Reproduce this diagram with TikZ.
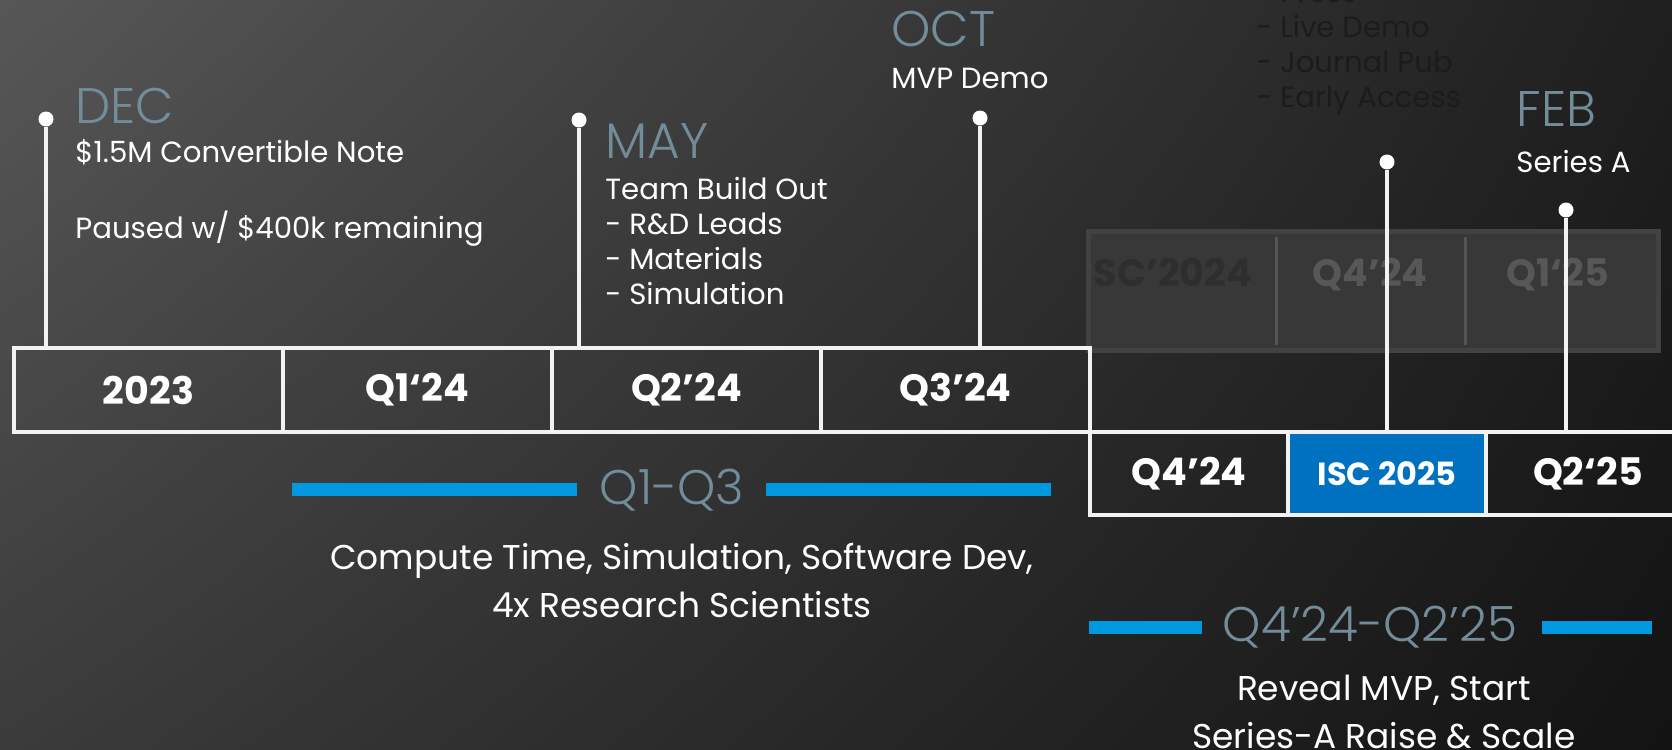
\documentclass[tikz,border=0pt]{standalone}
\usepackage{fontspec}
\setmainfont{Poppins}
\newfontfamily\lightfont{Poppins Light}
\usetikzlibrary{positioning,shadings}

\definecolor{linecol}{HTML}{F2F2F2}
\definecolor{monthcol}{HTML}{728C99}
\definecolor{barblue}{HTML}{0099E0}
\definecolor{iscblue}{HTML}{0070C0}

\tikzset{
  qbox/.style={draw=linecol, line width=1.6pt, outer sep=0pt, inner sep=0pt,
    minimum width=134.5pt, minimum height=42pt, text=white,
    font=\bfseries\fontsize{19}{22}\selectfont},
  qboxb/.style={qbox, minimum width=99pt, minimum height=41.5pt},
  month/.style={anchor=west, inner sep=0pt, text=monthcol,
    font=\lightfont\fontsize{25}{28}\selectfont},
  note/.style={anchor=west, inner sep=0pt, text=white, align=left,
    font=\fontsize{14.6}{17.5}\selectfont},
  dot/.style={circle, fill=white, inner sep=0pt, minimum size=7.5pt},
  stem/.style={draw=linecol, line width=1.6pt},
  bar/.style={draw=barblue, line width=6.5pt},
  span/.style={inner sep=0pt, text=monthcol, font=\lightfont\fontsize{24.3}{27}\selectfont},
  summary/.style={inner sep=0pt, text=white, align=center,
    font=\fontsize{17.2}{24}\selectfont},
  ghost/.style={inner sep=0pt, font=\bfseries\fontsize{19}{22}\selectfont}
}

\begin{document}
\begin{tikzpicture}[x=0.5pt, y=-0.5pt]
\definecolor{bgtl}{HTML}{575757}
\definecolor{bgtr}{HTML}{1F1F1F}
\definecolor{bgbl}{HTML}{3B3B3B}
\definecolor{bgbr}{HTML}{131313}
\useasboundingbox (0,0) rectangle (1672,750);
\clip (0,0) rectangle (1672,750);
\shade[upper left=bgtl, upper right=bgtr, lower left=bgbl, lower right=bgbr] (0,0) rectangle (1672,750);

% faded notes and old boxes, top right
\node[note, text=black!89] (oldlist) at (1256,48.5) {- Press\\- Live Demo\\- Journal Pub\\- Early Access};
\node[draw=black!74, fill=black!78, line width=2.5pt, minimum width=285pt, minimum height=59.5pt] (ghostrow) at (1373,290.5) {};
\draw[draw=black!67, line width=1.5pt] (1276,237) -- (1276,345) (1465,237) -- (1465,345);
\node[ghost, text=black!82] (gsc) at (1173,272) {SC’2024};
\node[ghost, text=black!66] (gq4) at (1370,275) {Q4’24};
\node[ghost, text=black!66] (gq1) at (1558,275) {Q1‘25};

% first row
\node[qbox] (y23) at (148.5,390) {2023};
\node[qbox, right=0pt of y23] (q124) {Q1‘24};
\node[qbox, right=0pt of q124] (q224) {Q2’24};
\node[qbox, right=0pt of q224] (q324) {Q3’24};

% second row
\node[qboxb, anchor=north west] (q424) at (q324.south east) {Q4’24};
\node[qboxb, right=0pt of q424, fill=iscblue, font=\bfseries\fontsize{16}{19}\selectfont] (isc) {ISC 2025};
\node[qboxb, right=0pt of isc, minimum width=102pt] (q225) {Q2‘25};

% milestones
\node[month] (dec) at (75,106) {DEC};
\node[note] (decnote) at (75,152) {\$1.5M Convertible Note};
\node[note] (decpause) at (75,229) {Paused w/ \$400k remaining};
\node[dot] (decdot) at (46,119) {};
\draw[stem] (decdot) -- (decdot |- y23.north);

\node[month] (may) at (605,141) {MAY};
\node[note] (maynote) at (605,241.5) {Team Build Out\\- R\&D Leads\\- Materials\\- Simulation};
\node[dot] (maydot) at (579,120) {};
\draw[stem] (maydot) -- (maydot |- q224.north);

\node[month] (oct) at (891,29) {OCT};
\node[note] (octnote) at (891,78) {MVP Demo};
\node[dot] (octdot) at (980,118) {};
\draw[stem] (octdot) -- (octdot |- q324.north);

\node[dot] (iscdot) at (1387,162) {};
\draw[stem] (iscdot) -- (iscdot |- isc.north);

\node[month] (feb) at (1516,109) {FEB};
\node[note] (febnote) at (1516,162) {Series A};
\node[dot] (febdot) at (1566,210) {};
\draw[stem] (febdot) -- (febdot |- q225.north);

% spans below
\node[span] (q13) at (672,490) {Q1-Q3};
\draw[bar] (292,489) -- (577,489) (766,489) -- (1051,489);
\node[summary] (q13note) at (682,581) {Compute Time, Simulation, Software Dev,\\4x Research Scientists};

\node[span] (q4q2) at (1370,627) {Q4’24-Q2’25};
\draw[bar] (1089,627) -- (1202,627) (1542,627) -- (1652,627);
\node[summary] (q4q2note) at (1384,712) {Reveal MVP, Start\\Series-A Raise \& Scale};
\end{tikzpicture}
\end{document}
